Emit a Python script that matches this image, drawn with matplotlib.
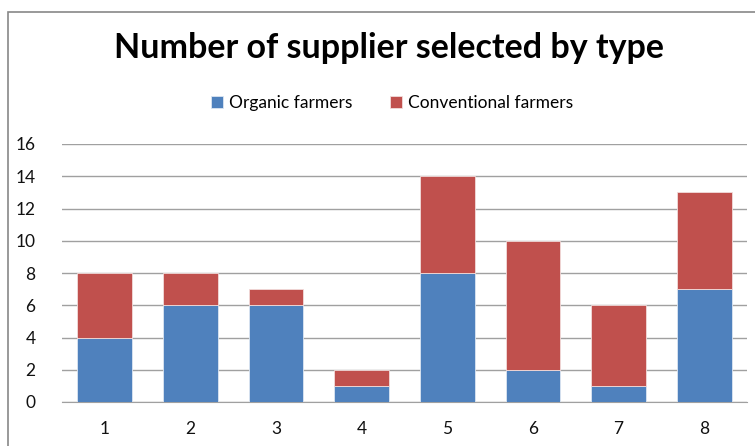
import numpy as np
import matplotlib.pyplot as plt
from matplotlib.patches import Rectangle

# Data
categories = ['1', '2', '3', '4', '5', '6', '7', '8']
organic = [4, 6, 6, 1, 8, 2, 1, 7]
conventional = [4, 2, 1, 1, 6, 8, 5, 6]

plt.rcParams['font.family'] = ['Lato', 'DejaVu Sans']

fig = plt.figure(figsize=(7.55, 4.46), dpi=100)
W, H = 755, 446

# outer chart border (cropped on right/bottom)
fig.patches.append(Rectangle((8 / W, -0.1), 1.2, (H - 12) / H + 0.1,
                             transform=fig.transFigure, fill=False,
                             edgecolor='#888888', linewidth=1.2))

ax = fig.add_axes([62 / W, 1 - 402 / H, (747 - 62) / W, (402 - 144) / H])

x = np.arange(len(categories))
ax.bar(x, organic, width=0.64, color='#4F81BD', edgecolor='#DCE6F2',
       linewidth=0.6, label='Organic farmers', zorder=3)
ax.bar(x, conventional, width=0.64, bottom=organic, color='#C0504D',
       edgecolor='#F2DCDB', linewidth=0.6, label='Conventional farmers', zorder=3)

ax.set_xlim(-0.5, len(categories) - 0.5)
ax.set_ylim(0, 16)
ax.set_yticks(range(0, 17, 2))
ax.set_xticks(x)
ax.set_xticklabels(categories)
ax.grid(axis='y', color='#A0A0A0', linewidth=1, zorder=0)
ax.tick_params(length=0, labelsize=12.5, colors='#111111')
ax.tick_params(axis='x', pad=14)
ax.tick_params(axis='y', pad=19)
for s in ['top', 'right', 'left']:
    ax.spines[s].set_visible(False)
ax.spines['bottom'].set_color('#A0A0A0')

fig.text(389 / W, 1 - 48 / H, 'Number of supplier selected by type',
         ha='center', va='center', fontsize=24.5, fontweight='bold')

fig.legend(loc='center', bbox_to_anchor=(392 / W, 1 - 103 / H), ncol=2,
           frameon=False, fontsize=12.5, handlelength=0.7, handleheight=0.7,
           handletextpad=0.3, columnspacing=2.2)

fig.savefig('out.png', dpi=100)
